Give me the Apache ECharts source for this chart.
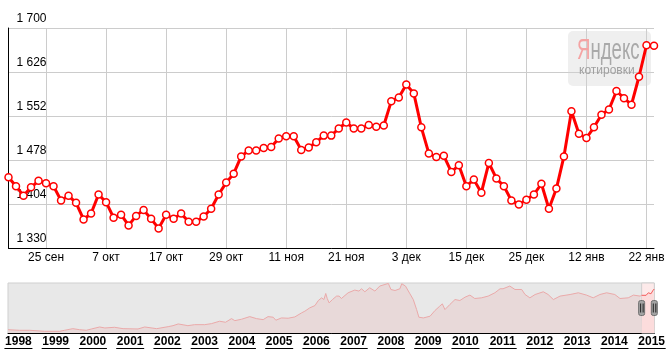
<!DOCTYPE html>
<html><head><meta charset="utf-8">
<script src="https://cdn.jsdelivr.net/npm/echarts@6/dist/echarts.min.js"></script>
<style>html,body{margin:0;padding:0;background:#fff}#c{width:671px;height:357px}</style>
</head><body><div id="c"></div>
<script>
// Main chart: trading-day categories and prices
const categories = [
 '18 сен','19 сен','22 сен','23 сен','24 сен','25 сен','26 сен','29 сен','30 сен','1 окт',
 '2 окт','3 окт','6 окт','7 окт','8 окт','9 окт','10 окт','13 окт','14 окт','15 окт',
 '16 окт','17 окт','20 окт','21 окт','22 окт','23 окт','24 окт','27 окт','28 окт','29 окт',
 '30 окт','31 окт','3 ноя','5 ноя','6 ноя','7 ноя','10 ноя','11 ноя','12 ноя','13 ноя',
 '14 ноя','17 ноя','18 ноя','19 ноя','20 ноя','21 ноя','24 ноя','25 ноя','26 ноя','27 ноя',
 '28 ноя','1 дек','2 дек','3 дек','4 дек','5 дек','8 дек','9 дек','10 дек','11 дек',
 '12 дек','15 дек','16 дек','17 дек','18 дек','19 дек','22 дек','23 дек','24 дек','25 дек',
 '26 дек','29 дек','30 дек','31 дек','5 янв','6 янв','9 янв','12 янв','13 янв','14 янв',
 '15 янв','16 янв','19 янв','20 янв','21 янв','22 янв','23 янв'
];
const prices = [
 1449,1434,1418,1432,1443,1439,1434,1410,1418,1406,
 1378,1388,1420,1407,1381,1386,1368,1384,1394,1379,
 1363,1386,1379,1388,1374,1374,1383,1396,1420,1440,
 1455,1484,1494,1494,1498,1500,1514,1518,1518,1495,
 1499,1508,1519,1519,1531,1541,1531,1531,1537,1534,
 1536,1577,1583,1605,1590,1533,1489,1483,1485,1458,
 1469,1434,1445,1423,1473,1447,1434,1410,1403,1411,
 1420,1438,1396,1430,1484,1560,1522,1515,1533,1554,
 1563,1594,1582,1571,1618,1671,1670
];
const priceTicks = [1330, 1404, 1478, 1552, 1626, 1700];
const firstLabelIndex = 5;
const labelStep = 8;

// Navigator: full history (years, values)
const navYears = [
 1997.72,1998.03,1998.30,1998.35,1998.70,1999.11,1999.24,1999.46,1999.64,1999.82,
 1999.96,2000.18,2000.32,2000.58,2000.81,2001.21,2001.39,2001.71,2002.02,2002.15,
 2002.29,2002.55,2002.73,2003.00,2003.18,2003.40,2003.56,2003.72,2003.81,2003.99,
 2004.21,2004.39,2004.57,2004.70,2004.84,2004.91,2005.06,2005.24,2005.42,2005.60,
 2005.69,2005.82,2005.96,2006.05,2006.14,2006.20,2006.25,2006.29,2006.34,2006.43,
 2006.54,2006.61,2006.67,2006.85,2007.03,2007.14,2007.21,2007.30,2007.43,2007.57,
 2007.70,2007.84,2007.93,2008.00,2008.11,2008.24,2008.29,2008.39,2008.51,2008.60,
 2008.69,2008.75,2008.87,2009.05,2009.18,2009.31,2009.38,2009.45,2009.58,2009.72,
 2009.85,2009.99,2010.12,2010.25,2010.43,2010.61,2010.79,2010.93,2011.01,2011.19,
 2011.33,2011.51,2011.60,2011.73,2011.87,2012.09,2012.22,2012.36,2012.54,2012.81,
 2013.03,2013.25,2013.43,2013.61,2013.79,2014.01,2014.15,2014.37,2014.51,2014.69,
 2014.73
];
const navValues = [
 129,106,106,67,67,67,106,169,129,106,
 157,235,196,223,169,157,235,169,247,286,
 353,286,325,325,365,459,419,561,482,537,
 639,561,521,639,615,498,588,576,627,784,
 851,980,1070,1266,1372,1305,1541,1345,1176,1305,
 1439,1439,1345,1568,1674,1635,1725,1607,1764,1635,
 1831,1893,1933,1697,1658,1725,1921,1831,1529,1305,
 913,615,588,655,874,1047,1137,913,1109,1305,
 1266,1399,1478,1345,1372,1439,1568,1725,1725,1831,
 1697,1697,1501,1372,1501,1607,1501,1305,1439,1501,
 1568,1478,1372,1501,1568,1501,1345,1372,1478,1439,
 1470
];
const selYears = [2014.73, 2014.78, 2014.85, 2014.91, 2014.98, 2015.05, 2015.07];
const selValues = [1470, 1501, 1470, 1568, 1529, 1697, 1697];
const yearLabels = [1998,1999,2000,2001,2002,2003,2004,2005,2006,2007,2008,2009,2010,2011,2012,2013,2014,2015];
const navRange = [1997.72, 2015.07];
const selRange = [2014.73, 2015.07];

const FONT = '"Liberation Sans", Arial, sans-serif';
const fmt = v => String(v).replace(/\B(?=(\d{3})+(?!\d))/g, ' ');

const chart = echarts.init(document.getElementById('c'), null, {renderer: 'canvas'});
const option = {
  animation: false,
  backgroundColor: '#fff',
  textStyle: {fontFamily: FONT},
  grid: [
    {left: 8.5, top: 28, width: 645.5, height: 220},
    {left: 8, top: 283, width: 646.3, height: 50, show: true, backgroundColor: '#e8e8e8', borderColor: '#cfcfcf', borderWidth: 1}
  ],
  xAxis: [
    {
      type: 'category', gridIndex: 0, data: categories, boundaryGap: false,
      axisLine: {lineStyle: {color: '#000', width: 1}},
      axisTick: {show: false},
      axisLabel: {
        color: '#000', fontSize: 12, fontFamily: FONT, margin: 4,
        interval: (i) => i >= firstLabelIndex && (i - firstLabelIndex) % labelStep === 0
      },
      splitLine: {
        show: true, lineStyle: {color: '#cccccc', width: 1},
        interval: (i) => i >= firstLabelIndex && (i - firstLabelIndex) % labelStep === 0
      }
    },
    {
      type: 'value', gridIndex: 1, min: navRange[0], max: navRange[1],
      axisLine: {onZero: false, lineStyle: {color: '#000', width: 1}},
      axisTick: {show: false},
      splitLine: {show: false},
      axisLabel: {
        customValues: yearLabels,
        margin: 3,
        formatter: v => '{t|' + v + '}\n{u| }',
        rich: {
          t: {fontSize: 12, fontWeight: 'bold', color: '#000', fontFamily: FONT, lineHeight: 12, align: 'center'},
          u: {width: 28, height: 1, lineHeight: 1, fontSize: 1, backgroundColor: '#000', align: 'center'}
        }
      }
    }
  ],
  yAxis: [
    {
      type: 'value', gridIndex: 0,
      min: priceTicks[0], max: priceTicks[priceTicks.length - 1], interval: priceTicks[1] - priceTicks[0],
      axisLine: {show: true, lineStyle: {color: '#000', width: 1}},
      axisTick: {show: false},
      splitLine: {lineStyle: {color: '#cccccc', width: 1}},
      axisLabel: {
        inside: true, margin: 8, color: '#000', fontSize: 12, fontFamily: FONT,
        verticalAlign: 'bottom', padding: [0, 0, 3, 0],
        formatter: fmt
      }
    },
    {
      type: 'value', gridIndex: 1, min: 0, max: 1950, show: false,
      splitLine: {show: false}
    }
  ],
  series: [
    {
      type: 'line', xAxisIndex: 0, yAxisIndex: 0, data: prices,
      z: 3,
      lineStyle: {color: '#ff0000', width: 3},
      symbol: 'circle', symbolSize: 7, showAllSymbol: true,
      itemStyle: {color: '#ffffff', borderColor: '#ff0000', borderWidth: 1.5}
    },
    {
      type: 'line', xAxisIndex: 1, yAxisIndex: 1,
      data: navYears.map((y, i) => [y, navValues[i]]),
      symbol: 'none', silent: true,
      lineStyle: {color: '#eaa9a9', width: 1},
      areaStyle: {color: '#e8d9d9', opacity: 1}
    },
    {
      type: 'line', xAxisIndex: 1, yAxisIndex: 1,
      data: selYears.map((y, i) => [y, selValues[i]]),
      symbol: 'none', silent: true,
      lineStyle: {color: '#f35b5b', width: 1},
      areaStyle: {color: '#fcdcdc', opacity: 1},
      markArea: {
        silent: true,
        itemStyle: {color: '#fdeaea', borderColor: '#cfcfcf', borderWidth: 1},
        data: [[{xAxis: selRange[0]}, {xAxis: selRange[1]}]]
      }
    }
  ]
};
chart.setOption(option);

// Watermark and navigator handles (positions from the navigator axes)
const handleY = chart.convertToPixel({yAxisIndex: 1}, 975);
const handles = selRange.map(yr => {
  const x = chart.convertToPixel({xAxisIndex: 1}, yr);
  return {
    type: 'group', x: x, y: handleY, z: 20,
    children: [
      {type: 'rect', z: 20, shape: {x: -3, y: -7.5, width: 6, height: 15, r: 2}, style: {fill: '#a3a3a3', stroke: '#6f6f6f', lineWidth: 1}},
      {type: 'line', z: 21, shape: {x1: -1, y1: -4.5, x2: -1, y2: 4.5}, style: {stroke: '#222', lineWidth: 1}},
      {type: 'line', z: 21, shape: {x1: 1.5, y1: -4.5, x2: 1.5, y2: 4.5}, style: {stroke: '#222', lineWidth: 1}}
    ]
  };
});
chart.setOption({
  graphic: [
    {type: 'rect', x: 568, y: 31, z: 1, shape: {width: 83, height: 55, r: 5}, style: {fill: 'rgba(210,210,210,0.35)'}},
    {type: 'text', x: 577, y: 51, z: 1, scaleX: 0.62,
      style: {text: '{a|Я}{b|ндекс}', font: '30px ' + FONT, verticalAlign: 'middle', align: 'left',
        rich: {a: {fill: '#f4a3a3', fontSize: 30, fontFamily: FONT}, b: {fill: '#a9a9a9', fontSize: 30, fontFamily: FONT}}}},
    {type: 'text', x: 579, y: 71, z: 1,
      style: {text: 'котировки', font: '12px ' + FONT, fill: '#a0a0a0', verticalAlign: 'middle', align: 'left'}}
  ].concat(handles)
});
</script>
</body></html>
